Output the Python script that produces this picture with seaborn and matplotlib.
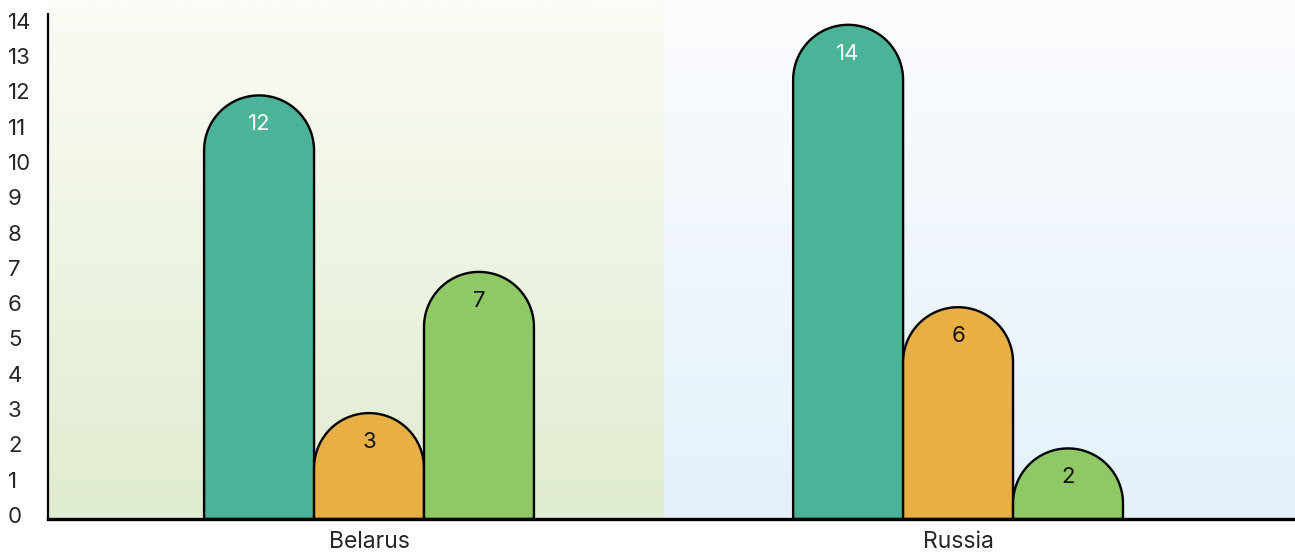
import numpy as np
import pandas as pd
import seaborn as sns
import matplotlib.pyplot as plt
import matplotlib.transforms as mtransforms
from matplotlib.path import Path
from matplotlib.patches import PathPatch
from matplotlib.colors import LinearSegmentedColormap, to_rgb

countries = ["Belarus", "Russia"]
series = ["Series 1", "Series 2", "Series 3"]
values = {
    "Series 1": [12, 14],
    "Series 2": [3, 6],
    "Series 3": [7, 2],
}
colors = ["#4bb398", "#e8af44", "#8fc965"]
yticks = list(range(0, 15))


def build_frame():
    rows = []
    for s in series:
        for c, v in zip(countries, values[s]):
            rows.append({"country": c, "series": s, "value": v})
    return pd.DataFrame(rows)


def draw_background(ax, x0, x1, top, bottom, ylim):
    cmap = LinearSegmentedColormap.from_list("bg", [bottom, top])
    grad = np.linspace(0, 1, 256).reshape(-1, 1)
    ax.imshow(grad, cmap=cmap, origin="lower", aspect="auto",
              extent=(x0, x1, ylim[0], ylim[1]), zorder=0)


def rounded_bar(x0, w, h, ry):
    rx = w / 2
    xc = x0 + rx
    yc = max(h - ry, 0)
    theta = np.linspace(np.pi, 0, 60)
    arc = np.column_stack([xc + rx * np.cos(theta), yc + ry * np.sin(theta)])
    verts = np.vstack([[x0, 0], [x0, yc], arc, [x0 + w, yc], [x0 + w, 0], [x0, 0]])
    codes = [Path.MOVETO] + [Path.LINETO] * (len(verts) - 2) + [Path.CLOSEPOLY]
    return Path(verts, codes)


def main():
    df = build_frame()
    sns.set_style("white")
    plt.rcParams["font.family"] = ["Inter", "DejaVu Sans"]

    fig = plt.figure(figsize=(12.95, 5.55), dpi=100)
    W, H = 1295, 555
    ax = fig.add_axes([48 / W, 36 / H, (1295 - 48) / W, 519 / H])

    xlim = (-0.545, 1.572)
    ylim = (0, 519 / 35.3)

    sns.barplot(data=df, x="country", y="value", hue="series", order=countries,
                hue_order=series, palette=colors, width=0.56, gap=0,
                saturation=1, legend=False, ax=ax, zorder=2)

    ax.set_xlim(*xlim)
    ax.set_ylim(*ylim)

    draw_background(ax, xlim[0], 0.5, "#fafcf5", "#e0ecd0", ylim)
    draw_background(ax, 0.5, xlim[1], "#fbfcfe", "#e4f1fa", ylim)

    # px per data unit, for round caps
    px_x = (1295 - 48) / (xlim[1] - xlim[0])
    px_y = 519 / (ylim[1] - ylim[0])

    teal = np.array(to_rgb(colors[0]))
    bars = list(ax.patches)
    for p in bars:
        x0, w, h = p.get_x(), p.get_width(), p.get_height()
        fc = p.get_facecolor()
        ry = (w / 2) * px_x / px_y
        path = rounded_bar(x0, w, h, ry)
        ax.add_patch(PathPatch(path, facecolor=fc, edgecolor="black",
                               linewidth=1.7, zorder=3))
        is_teal = np.allclose(np.array(fc[:3]), teal, atol=0.02)
        ax.text(x0 + w / 2, h - 29 / px_y, f"{h:g}", ha="center", va="center",
                fontsize=16, color="white" if is_teal else "#111111", zorder=4)
        p.remove()

    ax.set_xlabel("")
    ax.set_ylabel("")
    ax.set_yticks(yticks)
    ax.set_yticklabels([str(t) for t in yticks], fontsize=16)
    ax.tick_params(axis="y", length=0, pad=0)
    ax.tick_params(axis="x", length=0, pad=9, labelsize=16.5)
    off = mtransforms.ScaledTranslation(-40 / 100, 4 / 100, fig.dpi_scale_trans)
    for lab in ax.get_yticklabels():
        lab.set_horizontalalignment("left")
        lab.set_transform(lab.get_transform() + off)

    for side in ["top", "right"]:
        ax.spines[side].set_visible(False)
    ax.spines["left"].set_color("black")
    ax.spines["left"].set_linewidth(1.6)
    ax.spines["left"].set_bounds(0, 505 / 35.3)
    ax.spines["bottom"].set_color("black")
    ax.spines["bottom"].set_linewidth(2.4)
    ax.spines["bottom"].set_zorder(5)

    fig.savefig("out.png", dpi=100)
    plt.close(fig)


if __name__ == "__main__":
    main()
